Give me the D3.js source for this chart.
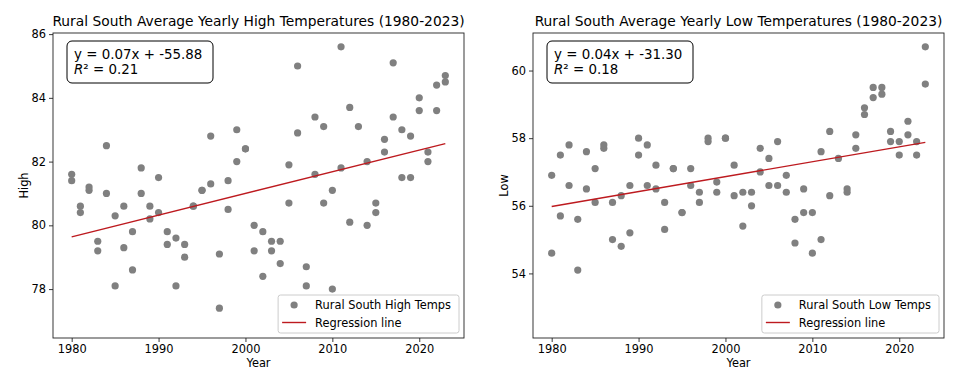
<!DOCTYPE html>
<html><head><meta charset="utf-8">
<script src="https://cdn.jsdelivr.net/npm/d3@7"></script>
<style>
html,body{margin:0;padding:0;background:#fff;}
text{font-family:"DejaVu Sans",sans-serif;fill:#000;}
</style></head>
<body>
<svg id="chart" width="960" height="380"></svg>
<script>
const years = [1980,1981,1982,1983,1984,1985,1986,1987,1988,1989,1990,1991,1992,1993,1994,1995,1996,1997,1998,1999,2000,2001,2002,2003,2004,2005,2006,2007,2008,2009,2010,2011,2012,2013,2014,2015,2016,2017,2018,2019,2020,2021,2022,2023];
const highA = [81.6,80.6,81.2,79.5,82.5,80.3,80.6,79.8,81.8,80.6,81.5,79.8,79.6,79.4,80.6,81.1,82.8,79.1,81.4,83.0,82.4,80.0,79.8,79.5,79.5,81.9,85.0,78.7,83.4,83.1,81.1,85.6,83.7,83.1,82.0,80.7,82.7,85.1,83.0,82.8,84.0,82.3,84.4,84.7];
const highB = [81.4,80.4,81.1,79.2,81.0,78.1,79.3,78.6,81.0,80.2,80.4,79.4,78.1,79.0,80.6,81.1,81.3,77.4,80.5,82.0,82.4,79.2,78.4,79.2,78.8,80.7,82.9,78.1,81.6,80.7,78.0,81.8,80.1,76.9,80.0,80.4,82.3,83.4,81.5,81.5,83.6,82.0,83.6,84.5];
const lowA = [56.9,57.5,57.8,55.6,57.6,57.1,57.8,56.1,56.3,56.6,58.0,57.8,57.2,56.1,57.1,55.8,57.1,56.4,58.0,56.7,58.0,57.2,56.4,56.4,57.7,57.4,57.9,56.9,55.6,56.5,55.8,57.6,58.2,57.4,56.5,58.1,58.9,59.5,59.5,58.2,57.9,58.5,57.9,60.7];
const lowB = [54.6,55.7,56.6,54.1,56.5,56.1,57.7,55.0,54.8,55.2,57.5,56.6,56.5,55.3,57.1,55.8,56.6,56.1,57.9,56.4,58.0,56.3,55.4,56.0,57.0,56.6,56.6,56.4,54.9,55.8,54.6,55.0,56.3,52.5,56.4,57.7,58.7,59.2,59.3,57.9,57.5,58.1,57.5,59.6];
const xTicks = [1980,1990,2000,2010,2020];
const highTicks = [78,80,82,84,86];
const lowTicks = [54,56,58,60];

const panels = [
  {title:"Rural South Average Yearly High Temperatures (1980-2023)", ylabel:"High", a:highA, b:highB, ticks:highTicks,
   eq:"y = 0.07x + -55.88", r2:"0.21", legend:"Rural South High Temps", x0:53, x1:464},
  {title:"Rural South Average Yearly Low Temperatures (1980-2023)", ylabel:"Low", a:lowA, b:lowB, ticks:lowTicks,
   eq:"y = 0.04x + -31.30", r2:"0.18", legend:"Rural South Low Temps", x0:533, x1:944}
];

const svg = d3.select("#chart");
const yTop = 33, yBot = 338;
const gray = "#808080", red = "#bd1a1f";

panels.forEach(p => {
  const pts = [];
  years.forEach((yr,i) => { pts.push([yr,p.a[i]]); pts.push([yr,p.b[i]]); });
  const xmin = d3.min(years), xmax = d3.max(years), xm = (xmax-xmin)*0.05;
  const ymin = d3.min(pts,d=>d[1]), ymax = d3.max(pts,d=>d[1]), ym = (ymax-ymin)*0.05;
  const x = d3.scaleLinear().domain([xmin-xm, xmax+xm]).range([p.x0,p.x1]);
  const y = d3.scaleLinear().domain([ymin-ym, ymax+ym]).range([yBot, yTop]);

  const mx = d3.mean(pts,d=>d[0]), my = d3.mean(pts,d=>d[1]);
  const sxy = d3.sum(pts,d=>(d[0]-mx)*(d[1]-my)), sxx = d3.sum(pts,d=>(d[0]-mx)**2);
  const slope = sxy/sxx, icpt = my - slope*mx;

  const g = svg.append("g");
  g.append("text").attr("x",(p.x0+p.x1)/2).attr("y",26).attr("text-anchor","middle")
    .style("font-size","13.8px").text(p.title);

  g.selectAll("circle.pt").data(pts).join("circle").attr("class","pt")
    .attr("cx",d=>x(d[0])).attr("cy",d=>y(d[1])).attr("r",3.6).attr("fill",gray);

  g.append("line").attr("x1",x(xmin)).attr("x2",x(xmax))
    .attr("y1",y(slope*xmin+icpt)).attr("y2",y(slope*xmax+icpt))
    .attr("stroke",red).attr("stroke-width",1.4);

  const xa = g.append("g").attr("transform",`translate(0,${yBot})`)
    .call(d3.axisBottom(x).tickValues(xTicks).tickFormat(d3.format("d")).tickSizeOuter(0).tickSize(4).tickPadding(3));
  const ya = g.append("g").attr("transform",`translate(${p.x0},0)`)
    .call(d3.axisLeft(y).tickValues(p.ticks).tickFormat(d3.format("d")).tickSizeOuter(0).tickSize(4).tickPadding(3));
  [xa,ya].forEach(a => {
    a.select(".domain").remove();
    a.selectAll("text").style("font-size","11.4px").attr("fill","#000");
    a.selectAll("line").attr("stroke","#222").attr("stroke-width",0.9);
  });
  g.append("rect").attr("x",p.x0).attr("y",yTop).attr("width",p.x1-p.x0).attr("height",yBot-yTop)
    .attr("fill","none").attr("stroke","#222").attr("stroke-width",0.9);

  g.append("text").attr("x",(p.x0+p.x1)/2).attr("y",367).attr("text-anchor","middle")
    .style("font-size","11.4px").text("Year");
  g.append("text").attr("transform",`translate(${p.x0-29},${(yTop+yBot)/2}) rotate(-90)`)
    .attr("text-anchor","middle").attr("dy","0.35em").style("font-size","11.4px").text(p.ylabel);

  // equation box
  const bx = p.x0+14, by = 41;
  g.append("rect").attr("x",bx).attr("y",by).attr("width",146).attr("height",42).attr("rx",5)
    .attr("fill","#fff").attr("stroke","#000").attr("stroke-width",1);
  g.append("text").attr("x",bx+7).attr("y",by+17.6).style("font-size","13.4px").text(p.eq);
  const t2 = g.append("text").attr("x",bx+7).attr("y",by+32.9).style("font-size","13.4px");
  t2.append("tspan").style("font-style","italic").text("R");
  t2.append("tspan").text("\u00B2 = " + p.r2);

  const lg = g.append("g");
  const lbl = lg.append("text").style("font-size","11.4px").text(p.legend);
  const w = lbl.node().getComputedTextLength();
  const lx1 = p.x1-5, lx0 = lx1 - (w + 45);
  lg.insert("rect","text").attr("x",lx0).attr("y",295).attr("width",lx1-lx0).attr("height",38).attr("rx",2.5)
    .attr("fill","#fff").attr("fill-opacity",0.85).attr("stroke","#ccc").attr("stroke-width",1);
  lbl.attr("x",lx0+37).attr("y",309);
  lg.append("circle").attr("cx",lx0+16).attr("cy",305).attr("r",3.6).attr("fill",gray);
  lg.append("line").attr("x1",lx0+4).attr("x2",lx0+28).attr("y1",322.5).attr("y2",322.5)
    .attr("stroke",red).attr("stroke-width",1.4);
  lg.append("text").attr("x",lx0+37).attr("y",326.5).style("font-size","11.4px").text("Regression line");
});
</script>
</body></html>
